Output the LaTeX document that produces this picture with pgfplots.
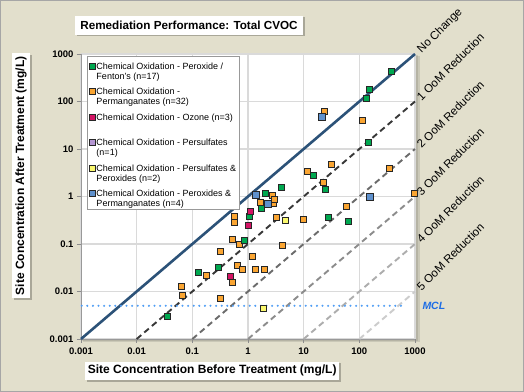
\documentclass[border=0pt]{standalone}
\usepackage{pgfplots}
\pgfplotsset{compat=1.18}
\usepackage{pgfplotstable}
\usepackage{fontspec}
\setmainfont{Liberation Sans}
\usetikzlibrary{shadows}
\definecolor{bg}{RGB}{226,223,204}
\definecolor{cgreen}{RGB}{0,168,80}
\definecolor{corange}{RGB}{250,165,50}
\definecolor{cmag}{RGB}{212,20,100}
\definecolor{cpurp}{RGB}{180,150,210}
\definecolor{cyel}{RGB}{250,248,110}
\definecolor{cblue}{RGB}{95,145,205}
\definecolor{nochange}{RGB}{44,82,120}
\definecolor{mclline}{RGB}{80,158,245}
\definecolor{mcltext}{RGB}{30,110,230}
\definecolor{gridc}{RGB}{218,218,218}

\pgfplotstableread{
x y
371 432
153 181
136 117
147 14.0
14.7 2.84
24.2 1.42
3.92 1.58
2.08 1.17
1.76 0.565
1.04 0.388
0.847 0.121
28.2 0.365
64.4 0.305
0.298 0.0328
0.126 0.0258
0.0351 0.00305
}\greendata

\pgfplotstableread{
x y
23.2 63.1
113 39.4
31.0 4.83
11.5 3.39
341 3.98
22.9 2.02
988 1.17
59.3 0.631
9.73 0.336
3.28 0.365
2.78 1.06
1.69 0.755
2.90 0.73
2.97 0.873
0.560 0.388
0.577 0.29
0.516 0.126
0.710 0.1
0.318 0.0689
1.18 0.0559
4.08 0.0953
0.643 0.0361
0.780 0.0298
1.37 0.0298
2.00 0.0298
0.176 0.0219
0.516 0.0158
0.0625 0.0131
0.0652 0.00844
0.324 0.00705
}\orangedata

\pgfplotstableread{
x y
1.12 0.488
1.03 0.243
0.489 0.0205
}\magdata

\pgfplotstableread{
x y
1.04 0.388
}\purpdata

\pgfplotstableread{
x y
4.68 0.32
1.86 0.00434
}\yeldata

\pgfplotstableread{
x y
1.37 1.08
2.26 0.695
21.1 47.2
153 0.976
}\bluedata

\newcommand{\legtext}[3]{\parbox[t]{140bp}{\rule{0pt}{#1}#2\par #3}}

\begin{document}
\begin{tikzpicture}
\useasboundingbox (0,0) rectangle (524bp,392bp);
\fill[bg] (0,0) rectangle (524bp,392bp);
\draw[black!35, line width=1bp] (0.5bp,0.5bp) rectangle (523.5bp,391.5bp);
\fill[black, opacity=0.10] (83bp,49.5bp) rectangle (419.5bp,336bp);
\fill[black, opacity=0.10] (82bp,51bp) rectangle (417.5bp,337bp);
\begin{axis}[
  at={(81bp,53bp)}, anchor=south west,
  scale only axis, width=334bp, height=285bp,
  xmode=log, ymode=log,
  xmin=0.001, xmax=1000, ymin=0.001, ymax=1000,
  clip=false,
  axis background/.style={fill=white},
  axis line style={draw=none},
  xtick={0.001,0.01,0.1,1,10,100,1000},
  ytick={0.001,0.01,0.1,1,10,100,1000},
  xticklabels={0.001,0.01,0.1,1,10,100,1000},
  yticklabels={0.001,0.01,0.1,1,10,100,1000},
  xminorticks=false, yminorticks=false,
  tick pos=left, tick align=outside, major tick length=4bp,
  tick style={black!45, line width=0.8bp},
  ticklabel style={font=\fontsize{9.5bp}{10bp}\selectfont\bfseries},
  xticklabel style={yshift=-1.5bp},
  /pgf/number format/assume math mode=true,
  grid=major, major grid style={gridc, line width=1.3bp},
  legend cell align=left,
  legend image code/.code={\draw[#1] plot coordinates {(0bp,3.3bp)};},
  legend style={at={(0,1)}, anchor=north west, xshift=5.7bp, yshift=-2bp,
    draw=black!40, line width=0.6bp, fill=white,
    inner xsep=2.35bp, inner ysep=2bp, row sep=0pt, column sep=1.15bp,
    font=\fontsize{9bp}{10bp}\selectfont,
    nodes={inner sep=0pt}, cells={anchor=base west}},
]
\draw[black!40, line width=0.9bp] (rel axis cs:0,1) -- (rel axis cs:0,0) -- (rel axis cs:1,0);
% reference lines
\addplot[no marks, nochange, line width=2.6bp, forget plot] coordinates {(0.001,0.001) (1000,1000)};
\addplot[no marks, black!78, line width=1.9bp, dash pattern=on 6bp off 4bp, forget plot] coordinates {(0.01,0.001) (1000,100)};
\addplot[no marks, black!58, line width=1.9bp, dash pattern=on 6bp off 4bp, forget plot] coordinates {(0.1,0.001) (1000,10)};
\addplot[no marks, black!45, line width=1.9bp, dash pattern=on 6bp off 4bp, forget plot] coordinates {(1,0.001) (1000,1)};
\addplot[no marks, black!32, line width=1.9bp, dash pattern=on 6bp off 4bp, forget plot] coordinates {(10,0.001) (1000,0.1)};
\addplot[no marks, black!20, line width=1.9bp, dash pattern=on 6bp off 4bp, forget plot] coordinates {(100,0.001) (1000,0.01)};
\addplot[no marks, mclline, line width=2.3bp, line cap=round, dash pattern=on 0bp off 5.6bp, forget plot] coordinates {(0.00103,0.005) (700,0.005)};
% data
\addplot[only marks, mark=square*, mark size=3bp, mark options={draw=black!85, fill=cpurp, line width=0.55bp}, forget plot] table {\purpdata};
\addplot[only marks, mark=square*, mark size=3bp, mark options={draw=black!85, fill=corange, line width=0.55bp}, forget plot] table {\orangedata};
\addplot[only marks, mark=square*, mark size=3bp, mark options={draw=black!85, fill=cgreen, line width=0.55bp}, forget plot] table {\greendata};
\addplot[only marks, mark=square*, mark size=3bp, mark options={draw=black!85, fill=cmag, line width=0.55bp}, forget plot] table {\magdata};
\addplot[only marks, mark=square*, mark size=3bp, mark options={draw=black!85, fill=cyel, line width=0.55bp}, forget plot] table {\yeldata};
\addplot[only marks, mark=square*, mark size=3.7bp, mark options={draw=black!85, fill=cblue, line width=0.55bp}, forget plot] table {\bluedata};
% legend
\addlegendimage{mark=square*, mark size=3bp, draw=black!85, fill=cgreen, line width=0.55bp}
\addlegendentry[text depth=18.7bp]{\legtext{10.8bp}{Chemical Oxidation - Peroxide /}{Fenton's (n=17)}}
\addlegendimage{mark=square*, mark size=3bp, draw=black!85, fill=corange, line width=0.55bp}
\addlegendentry[text depth=18.7bp]{\legtext{6.8bp}{Chemical Oxidation -}{Permanganates (n=32)}}
\addlegendimage{mark=square*, mark size=3bp, draw=black!85, fill=cmag, line width=0.55bp}
\addlegendentry[text depth=18.7bp]{\legtext{6.8bp}{Chemical Oxidation - Ozone (n=3)}{}}
\addlegendimage{mark=square*, mark size=3bp, draw=black!85, fill=cpurp, line width=0.55bp}
\addlegendentry[text depth=18.7bp]{\legtext{6.8bp}{Chemical Oxidation - Persulfates}{(n=1)}}
\addlegendimage{mark=square*, mark size=3bp, draw=black!85, fill=cyel, line width=0.55bp}
\addlegendentry[text depth=18.7bp]{\legtext{6.8bp}{Chemical Oxidation - Persulfates \&}{Peroxides (n=2)}}
\addlegendimage{mark=square*, mark size=3bp, draw=black!85, fill=cblue, line width=0.55bp}
\addlegendentry[text depth=11bp]{\legtext{6.8bp}{Chemical Oxidation - Peroxides \&}{Permanganates (n=4)}}
% line labels
\begin{scope}[every node/.style={rotate=45, anchor=base west, inner sep=0pt, font=\fontsize{11.5bp}{12bp}\selectfont}]
\node at ([xshift=6.5bp]axis cs:1000,1000) {No Change};
\node at ([xshift=6.5bp]axis cs:1000,100) {1 OoM Reduction};
\node at ([xshift=6.5bp]axis cs:1000,10) {2 OoM Reduction};
\node at ([xshift=6.5bp]axis cs:1000,1) {3 OoM Reduction};
\node at ([xshift=6.5bp]axis cs:1000,0.1) {4 OoM Reduction};
\node at ([xshift=6.5bp]axis cs:1000,0.01) {5 OoM Reduction};
\end{scope}
\node[anchor=west, inner sep=0pt, text=mcltext, font=\fontsize{10.5bp}{11bp}\selectfont\bfseries\itshape] at ([xshift=7.3bp]axis cs:1000,0.005) {MCL};
\end{axis}
% title and axis labels
\node[fill=white, inner sep=0pt, minimum width=228bp, minimum height=19bp,
  drop shadow={shadow xshift=1.5bp, shadow yshift=-1.5bp, fill=black, opacity=0.25},
  font=\fontsize{11.7bp}{13bp}\selectfont\bfseries] at (189bp,366.5bp) {Remediation Performance: Total CVOC};
\node[fill=white, inner sep=0pt, minimum width=254bp, minimum height=18.5bp,
  drop shadow={shadow xshift=1.5bp, shadow yshift=-1.5bp, fill=black, opacity=0.25},
  font=\fontsize{12bp}{13bp}\selectfont\bfseries] at (212.2bp,21.1bp) {Site Concentration Before Treatment (mg/L)};
\node[fill=white, inner sep=0pt, minimum width=244.7bp, minimum height=18bp, rotate=90,
  drop shadow={shadow xshift=1.5bp, shadow yshift=-1.5bp, fill=black, opacity=0.25},
  font=\fontsize{12bp}{13bp}\selectfont\bfseries] at (21bp,216.3bp) {Site Concentration After Treatment (mg/L)};
\end{tikzpicture}
\end{document}
